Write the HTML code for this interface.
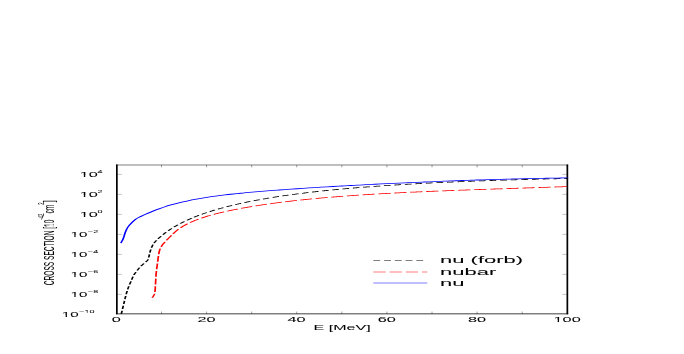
<!DOCTYPE html>
<html><head><meta charset="utf-8"><title>Cross section</title>
<style>
html,body{margin:0;padding:0;background:#fff;}
body{width:684px;height:354px;overflow:hidden;}
svg{display:block;opacity:0.999;will-change:transform;}
text{font-family:"Liberation Sans",sans-serif;fill:#000;font-kerning:none;stroke:#000;stroke-width:0.5px;}
</style></head><body>
<svg width="684" height="354" viewBox="0 0 684 354">
<rect width="684" height="354" fill="#fff"/>
<g transform="scale(1.7,0.794)" opacity="0.999" text-rendering="geometricPrecision">
<path d="M68.74 219.65h3.00M333.74 219.65h-3.00M68.74 244.84h3.00M333.74 244.84h-3.00M68.74 270.03h3.00M333.74 270.03h-3.00M68.74 295.21h3.00M333.74 295.21h-3.00M68.74 320.40h3.00M333.74 320.40h-3.00M68.74 345.59h3.00M333.74 345.59h-3.00M68.74 370.78h3.00M333.74 370.78h-3.00" stroke="#000" stroke-width="0.18" fill="none"/>
<path d="M68.48 395.38v-3.00M68.48 207.77v3.00M95.00 395.38v-3.00M95.00 207.77v3.00M121.52 395.38v-3.00M121.52 207.77v3.00M148.04 395.38v-3.00M148.04 207.77v3.00M174.56 395.38v-3.00M174.56 207.77v3.00M201.09 395.38v-3.00M201.09 207.77v3.00M227.61 395.38v-3.00M227.61 207.77v3.00M254.13 395.38v-3.00M254.13 207.77v3.00M280.65 395.38v-3.00M280.65 207.77v3.00M307.17 395.38v-3.00M307.17 207.77v3.00M333.69 395.38v-3.00M333.69 207.77v3.00" stroke="#000" stroke-width="0.3" fill="none"/>
<path d="M68.24 207.77H334.24M68.24 395.38H334.24" fill="none" stroke="#000" stroke-width="0.82"/>
<path d="M68.74 207.27V395.88M333.74 207.27V395.88" fill="none" stroke="#000" stroke-width="1"/>
<path d="M71.35 395.28L71.38 395.07L71.47 394.31L71.58 393.35L71.71 392.23L71.82 391.30M72.08 389.09L72.11 388.81L72.26 387.49L72.41 386.21L72.54 385.12M72.79 382.90L72.82 382.64L72.98 381.22L73.14 379.80L73.24 378.92M73.49 376.71L73.50 376.62L73.65 375.38L73.79 374.21L73.92 373.11L73.96 372.74M74.23 370.53L74.26 370.36L74.39 369.37L74.52 368.39L74.66 367.40L74.78 366.58M75.12 364.40L75.12 364.40L75.28 363.41L75.45 362.44L75.62 361.48L75.78 360.56L75.79 360.49M76.21 358.34L76.22 358.28L76.38 357.51L76.54 356.77L76.70 356.04L76.86 355.32L77.02 354.59L77.05 354.50M77.49 352.35L77.50 352.28L77.65 351.47L77.80 350.66L77.95 349.84L78.11 349.02L78.22 348.47M78.74 346.35L78.80 346.16L79.02 345.42L79.25 344.69L79.50 343.97L79.75 343.26L79.95 342.69M80.69 340.69L80.71 340.64L80.98 339.91L81.27 339.18L81.56 338.44L81.85 337.72L82.09 337.14M82.94 335.20L83.02 335.04L83.31 334.44L83.61 333.85L83.91 333.29L84.20 332.75L84.49 332.22L84.68 331.86M85.67 330.02L85.69 329.99L85.92 329.58L86.14 329.18L86.35 328.78L86.54 328.37L86.72 327.94L86.87 327.49L87.00 327.05L87.10 326.60L87.12 326.51M87.45 324.32L87.48 324.13L87.56 323.54L87.64 322.88L87.72 322.19L87.79 321.45L87.87 320.70L87.90 320.35M88.15 318.13L88.18 317.95L88.27 317.23L88.37 316.52L88.47 315.81L88.57 315.11L88.68 314.40L88.71 314.19M89.11 312.02L89.16 311.80L89.31 311.08L89.47 310.36L89.63 309.63L89.81 308.91L89.99 308.20M90.63 306.15L90.70 305.96L90.95 305.32L91.22 304.68L91.49 304.06L91.76 303.47L92.03 302.89L92.14 302.66M93.03 300.74L93.07 300.64L93.23 300.31L93.40 299.97L93.60 299.60L93.83 299.16L94.12 298.64L94.47 298.01L94.79 297.43M95.83 295.61L95.92 295.45L96.40 294.63L96.88 293.82L97.35 293.05L97.75 292.41M98.89 290.67L98.97 290.56L99.41 289.92L99.85 289.29L100.29 288.67L100.74 288.07L101.04 287.65M102.29 286.00L102.35 285.93L102.79 285.37L103.24 284.82L103.68 284.29L104.12 283.76L104.56 283.23L104.64 283.14M105.99 281.59L106.03 281.55L106.47 281.06L106.91 280.58L107.35 280.11L107.79 279.64L108.24 279.18L108.51 278.90M109.96 277.44L110.00 277.41L110.44 276.98L110.88 276.56L111.32 276.14L111.76 275.72L112.21 275.32L112.65 274.92L112.65 274.91M114.20 273.55L114.26 273.49L114.71 273.11L115.15 272.74L115.59 272.37L116.03 272.00L116.47 271.64L116.91 271.28L117.04 271.18M118.66 269.91L118.68 269.90L119.12 269.56L119.56 269.23L120.00 268.90L120.44 268.58L120.88 268.26L121.32 267.94L121.65 267.71M123.34 266.52L123.38 266.49L123.82 266.20L124.26 265.90L124.71 265.61L125.15 265.31L125.59 265.03L126.03 264.74L126.45 264.47M128.21 263.37L128.24 263.36L128.68 263.09L129.12 262.82L129.56 262.56L130.00 262.30L130.44 262.04L130.88 261.78L131.32 261.53L131.43 261.46M133.25 260.44L133.38 260.37L133.82 260.13L134.26 259.89L134.71 259.65L135.15 259.42L135.59 259.19L136.03 258.96L136.47 258.73L136.57 258.67M138.45 257.72L138.53 257.68L138.97 257.46L139.41 257.25L139.85 257.03L140.29 256.82L140.74 256.61L141.18 256.40L141.62 256.19L141.85 256.08M143.77 255.20L143.82 255.18L144.26 254.98L144.71 254.78L145.15 254.59L145.59 254.39L146.03 254.20L146.47 254.01L146.91 253.82L147.25 253.68M149.21 252.86L149.26 252.84L149.71 252.66L150.15 252.48L150.59 252.30L151.03 252.13L151.47 251.95L151.91 251.78L152.35 251.61L152.75 251.45M154.75 250.69L154.85 250.65L155.29 250.49L155.74 250.32L156.18 250.16L156.62 250.00L157.06 249.84L157.50 249.68L157.94 249.53L158.35 249.38M160.37 248.68L160.44 248.65L160.88 248.50L161.32 248.35L161.76 248.21L162.21 248.06L162.65 247.91L163.09 247.77L163.53 247.62L163.97 247.48L164.03 247.46M166.08 246.81L166.18 246.78L166.62 246.64L167.06 246.50L167.50 246.36L167.94 246.23L168.38 246.09L168.82 245.96L169.26 245.83L169.71 245.70L169.78 245.67M171.86 245.07L171.91 245.05L172.35 244.92L172.79 244.80L173.24 244.67L173.68 244.55L174.12 244.42L174.56 244.30L175.00 244.18L175.44 244.06L175.60 244.01M177.69 243.45L177.79 243.42L178.24 243.31L178.68 243.19L179.12 243.07L179.56 242.96L180.00 242.85L180.44 242.73L180.88 242.62L181.32 242.51L181.47 242.47M183.58 241.94L183.68 241.92L184.12 241.81L184.56 241.71L185.00 241.60L185.44 241.49L185.88 241.39L186.32 241.28L186.76 241.18L187.21 241.08L187.39 241.03M189.52 240.54L189.56 240.53L190.00 240.43L190.44 240.34L190.88 240.24L191.32 240.14L191.76 240.04L192.21 239.94L192.65 239.85L193.09 239.75L193.35 239.70M195.49 239.24L195.59 239.22L196.03 239.13L196.47 239.03L196.91 238.94L197.35 238.85L197.79 238.76L198.24 238.67L198.68 238.58L199.12 238.49L199.35 238.45M201.51 238.02L201.62 238.00L202.06 237.92L202.50 237.83L202.94 237.75L203.38 237.66L203.82 237.58L204.26 237.49L204.71 237.41L205.15 237.33L205.39 237.28M207.55 236.89L207.65 236.87L208.09 236.79L208.53 236.71L208.97 236.63L209.41 236.56L209.85 236.48L210.29 236.40L210.74 236.32L211.18 236.25L211.45 236.20M213.62 235.83L213.68 235.82L214.12 235.75L214.56 235.67L215.00 235.60L215.44 235.53L215.88 235.46L216.32 235.38L216.76 235.31L217.21 235.24L217.54 235.19M219.72 234.84L219.85 234.82L220.29 234.75L220.74 234.68L221.18 234.62L221.62 234.55L222.06 234.48L222.50 234.41L222.94 234.35L223.38 234.28L223.65 234.24M225.84 233.92L225.88 233.91L226.32 233.85L226.76 233.78L227.21 233.72L227.65 233.66L228.09 233.60L228.53 233.53L228.97 233.47L229.41 233.41L229.79 233.36M231.99 233.05L232.06 233.05L232.50 232.99L232.94 232.93L233.38 232.87L233.82 232.81L234.26 232.75L234.71 232.69L235.15 232.63L235.59 232.58L235.94 232.53M238.15 232.25L238.24 232.24L238.68 232.18L239.12 232.13L239.56 232.07L240.00 232.02L240.44 231.96L240.88 231.91L241.32 231.85L241.76 231.80L242.11 231.76M244.32 231.49L244.41 231.48L244.85 231.43L245.29 231.38L245.74 231.33L246.18 231.28L246.62 231.23L247.06 231.18L247.50 231.13L247.94 231.08L248.30 231.04M250.51 230.79L250.59 230.78L251.03 230.73L251.47 230.68L251.91 230.64L252.35 230.59L252.79 230.54L253.24 230.49L253.68 230.45L254.12 230.40L254.50 230.36M256.72 230.13L256.76 230.13L257.21 230.08L257.65 230.04L258.09 229.99L258.53 229.95L258.97 229.90L259.41 229.86L259.85 229.81L260.29 229.77L260.71 229.73M262.93 229.51L262.94 229.51L263.38 229.47L263.82 229.43L264.26 229.39L264.71 229.35L265.15 229.30L265.59 229.26L266.03 229.22L266.47 229.18L266.91 229.14L266.93 229.14M269.16 228.94L269.26 228.93L269.71 228.89L270.15 228.85L270.59 228.81L271.03 228.77L271.47 228.73L271.91 228.69L272.35 228.66L272.79 228.62L273.16 228.59M275.39 228.40L275.44 228.39L275.88 228.36L276.32 228.32L276.76 228.28L277.21 228.25L277.65 228.21L278.09 228.18L278.53 228.14L278.97 228.10L279.40 228.07M281.64 227.89L281.76 227.88L282.21 227.85L282.65 227.81L283.09 227.78L283.53 227.75L283.97 227.71L284.41 227.68L284.85 227.65L285.29 227.61L285.65 227.59M287.89 227.42L287.94 227.42L288.38 227.39L288.82 227.35L289.26 227.32L289.71 227.29L290.15 227.26L290.59 227.23L291.03 227.20L291.47 227.17L291.91 227.14M294.15 226.98L294.26 226.97L294.71 226.94L295.15 226.91L295.59 226.88L296.03 226.85L296.47 226.83L296.91 226.80L297.35 226.77L297.79 226.74L298.17 226.71M300.41 226.57L300.44 226.57L300.88 226.54L301.32 226.51L301.76 226.49L302.21 226.46L302.65 226.43L303.09 226.40L303.53 226.38L303.97 226.35L304.41 226.32L304.44 226.32M306.68 226.19L306.76 226.18L307.21 226.16L307.65 226.13L308.09 226.10L308.53 226.08L308.97 226.05L309.41 226.03L309.85 226.00L310.29 225.98L310.71 225.95M312.96 225.83L313.09 225.82L313.53 225.80L313.97 225.77L314.41 225.75L314.85 225.73L315.29 225.70L315.74 225.68L316.18 225.65L316.62 225.63L316.99 225.61M319.24 225.50L319.26 225.49L319.71 225.47L320.15 225.45L320.59 225.43L321.03 225.40L321.47 225.38L321.91 225.36L322.35 225.34L322.79 225.32L323.24 225.29L323.27 225.29M325.52 225.18L325.59 225.18L326.03 225.16L326.47 225.14L326.91 225.12L327.35 225.10L327.80 225.08L328.25 225.06L328.70 225.04L329.14 225.02L329.56 225.00M331.81 224.90L331.94 224.89L332.40 224.87L332.82 224.85L333.20 224.83L333.52 224.82L333.76 224.81" fill="none" stroke="#000" stroke-width="1"/>
<path d="M89.59 375.00L89.60 374.95L89.66 374.77L89.73 374.55L89.81 374.29L89.90 374.00L90.00 373.69L90.09 373.37L90.18 373.06L90.26 372.76L90.34 372.47L90.42 372.18L90.51 371.88L90.59 371.57L90.67 371.24L90.74 370.89L90.81 370.50L90.87 370.07L90.89 369.91M91.12 367.71L91.12 367.68L91.16 367.09L91.20 366.47L91.24 365.81L91.27 365.10L91.29 364.33L91.32 363.52L91.34 362.68L91.35 361.83L91.37 360.99L91.38 360.44M91.45 358.20L91.45 357.99L91.47 357.36L91.49 356.72L91.51 356.06L91.53 355.33L91.56 354.52L91.59 353.59L91.62 352.54L91.65 351.42L91.66 350.92M91.72 348.69L91.72 348.51L91.76 347.17L91.81 345.78L91.87 344.35L91.94 342.89L92.01 341.42M92.14 339.19L92.15 339.12L92.25 337.39L92.36 335.66L92.47 333.96L92.58 332.32L92.60 331.95M92.74 329.73L92.76 329.35L92.85 327.97L92.93 326.64L93.01 325.37L93.09 324.14L93.16 322.97L93.20 322.49M93.37 320.28L93.38 320.14L93.46 319.20L93.54 318.34L93.61 317.54L93.69 316.79L93.77 316.06L93.87 315.35L93.98 314.65L94.10 313.93L94.24 313.23L94.25 313.16M94.75 311.05L94.80 310.86L94.99 310.21L95.19 309.56L95.41 308.88L95.66 308.17L95.93 307.44L96.23 306.70L96.53 305.95L96.85 305.21L97.12 304.58M97.95 302.66L98.04 302.46L98.30 301.87L98.55 301.32L98.81 300.78L99.07 300.22L99.35 299.64L99.66 299.00L100.00 298.30L100.38 297.51L100.79 296.64L100.86 296.50M101.76 294.62L101.84 294.45L102.31 293.51L102.77 292.58L103.23 291.71L103.68 290.92L104.12 290.16L104.56 289.44L105.00 288.75L105.02 288.72M106.18 287.02L106.32 286.82L106.76 286.20L107.21 285.61L107.65 285.03L108.09 284.47L108.53 283.93L108.97 283.41L109.41 282.90L109.85 282.40L110.29 281.92L110.36 281.85M111.77 280.38L111.91 280.24L112.35 279.81L112.79 279.39L113.24 278.98L113.68 278.57L114.12 278.18L114.56 277.79L115.00 277.41L115.44 277.04L115.88 276.68L116.32 276.33L116.75 275.99M118.38 274.75L118.53 274.64L118.97 274.33L119.41 274.01L119.85 273.71L120.29 273.41L120.74 273.11L121.18 272.81L121.62 272.53L122.06 272.24L122.50 271.96L122.94 271.69L123.38 271.42L123.82 271.15L123.97 271.06M125.75 270.02L125.88 269.94L126.32 269.69L126.76 269.45L127.21 269.21L127.65 268.97L128.09 268.73L128.53 268.50L128.97 268.27L129.41 268.04L129.85 267.81L130.29 267.59L130.74 267.37L131.18 267.15L131.62 266.93L131.74 266.87M133.63 265.97L133.68 265.95L134.12 265.75L134.56 265.54L135.00 265.34L135.44 265.15L135.88 264.95L136.32 264.75L136.76 264.56L137.21 264.37L137.65 264.18L138.09 263.99L138.53 263.81L138.97 263.62L139.41 263.44L139.85 263.26L139.89 263.24M141.84 262.46L141.91 262.43L142.35 262.26L142.79 262.08L143.24 261.91L143.68 261.75L144.12 261.58L144.56 261.41L145.00 261.25L145.44 261.08L145.88 260.92L146.32 260.76L146.76 260.60L147.21 260.44L147.65 260.28L148.09 260.13L148.30 260.05M150.31 259.36L150.44 259.31L150.88 259.16L151.32 259.01L151.76 258.86L152.21 258.72L152.65 258.57L153.09 258.43L153.53 258.29L153.97 258.14L154.41 258.00L154.85 257.86L155.29 257.72L155.74 257.58L156.18 257.45L156.62 257.31L156.91 257.22M158.96 256.60L158.97 256.60L159.41 256.47L159.85 256.34L160.29 256.21L160.74 256.08L161.18 255.96L161.62 255.83L162.06 255.70L162.50 255.58L162.94 255.46L163.38 255.33L163.82 255.21L164.26 255.09L164.71 254.97L165.15 254.85L165.59 254.73L165.68 254.70M167.76 254.15L167.79 254.15L168.24 254.03L168.68 253.92L169.12 253.81L169.56 253.69L170.00 253.58L170.44 253.47L170.88 253.36L171.32 253.25L171.76 253.14L172.21 253.04L172.65 252.93L173.09 252.82L173.53 252.72L173.97 252.61L174.41 252.51L174.59 252.46M176.69 251.98L176.76 251.96L177.21 251.86L177.65 251.76L178.09 251.66L178.53 251.56L178.97 251.46L179.41 251.37L179.85 251.27L180.29 251.17L180.74 251.08L181.18 250.98L181.62 250.89L182.06 250.80L182.50 250.70L182.94 250.61L183.38 250.52L183.60 250.47M185.73 250.04L185.74 250.04L186.18 249.95L186.62 249.86L187.06 249.77L187.50 249.69L187.94 249.60L188.38 249.52L188.82 249.43L189.26 249.35L189.71 249.26L190.15 249.18L190.59 249.10L191.03 249.01L191.47 248.93L191.91 248.85L192.35 248.77L192.70 248.70M194.85 248.32L194.85 248.32L195.29 248.24L195.74 248.16L196.18 248.09L196.62 248.01L197.06 247.93L197.50 247.86L197.94 247.78L198.38 247.71L198.82 247.63L199.26 247.56L199.71 247.49L200.15 247.41L200.59 247.34L201.03 247.27L201.47 247.20L201.88 247.13M204.04 246.79L204.12 246.78L204.56 246.71L205.00 246.64L205.44 246.57L205.88 246.51L206.32 246.44L206.76 246.37L207.21 246.31L207.65 246.24L208.09 246.17L208.53 246.11L208.97 246.05L209.41 245.98L209.85 245.92L210.29 245.85L210.74 245.79L211.12 245.73M213.30 245.43L213.38 245.42L213.82 245.36L214.26 245.30L214.71 245.24L215.15 245.18L215.59 245.12L216.03 245.06L216.47 245.00L216.91 244.94L217.35 244.88L217.79 244.82L218.24 244.77L218.68 244.71L219.12 244.65L219.56 244.60L220.00 244.54L220.41 244.49M222.60 244.22L222.65 244.21L223.09 244.15L223.53 244.10L223.97 244.05L224.41 243.99L224.85 243.94L225.29 243.89L225.74 243.84L226.18 243.78L226.62 243.73L227.06 243.68L227.50 243.63L227.94 243.58L228.38 243.53L228.82 243.48L229.26 243.43L229.71 243.38L229.74 243.37M231.93 243.13L232.06 243.11L232.50 243.06L232.94 243.02L233.38 242.97L233.82 242.92L234.26 242.87L234.71 242.82L235.15 242.78L235.59 242.73L236.03 242.68L236.47 242.64L236.91 242.59L237.35 242.55L237.79 242.50L238.24 242.45L238.68 242.41L239.10 242.37M241.30 242.14L241.32 242.14L241.76 242.10L242.21 242.05L242.65 242.01L243.09 241.97L243.53 241.92L243.97 241.88L244.41 241.84L244.85 241.79L245.29 241.75L245.74 241.71L246.18 241.67L246.62 241.63L247.06 241.58L247.50 241.54L247.94 241.50L248.38 241.46L248.48 241.45M250.69 241.25L250.74 241.24L251.18 241.20L251.62 241.16L252.06 241.12L252.50 241.08L252.94 241.04L253.38 241.00L253.82 240.97L254.26 240.93L254.71 240.89L255.15 240.85L255.59 240.81L256.03 240.77L256.47 240.73L256.91 240.69L257.35 240.66L257.79 240.62L257.89 240.61M260.10 240.42L260.15 240.42L260.59 240.38L261.03 240.34L261.47 240.31L261.91 240.27L262.35 240.23L262.79 240.20L263.24 240.16L263.68 240.12L264.12 240.09L264.56 240.05L265.00 240.02L265.44 239.98L265.88 239.94L266.32 239.91L266.76 239.87L267.21 239.84L267.31 239.83M269.52 239.65L269.56 239.65L270.00 239.62L270.44 239.58L270.88 239.55L271.32 239.51L271.76 239.48L272.21 239.44L272.65 239.41L273.09 239.37L273.53 239.34L273.97 239.31L274.41 239.27L274.85 239.24L275.29 239.20L275.74 239.17L276.18 239.14L276.62 239.10L276.74 239.09M278.96 238.93L278.97 238.93L279.41 238.89L279.85 238.86L280.29 238.83L280.74 238.79L281.18 238.76L281.62 238.73L282.06 238.69L282.50 238.66L282.94 238.63L283.38 238.60L283.82 238.56L284.26 238.53L284.71 238.50L285.15 238.47L285.59 238.43L286.03 238.40L286.18 238.39M288.40 238.23L288.53 238.22L288.97 238.19L289.41 238.16L289.85 238.12L290.29 238.09L290.74 238.06L291.18 238.03L291.62 238.00L292.06 237.96L292.50 237.93L292.94 237.90L293.38 237.87L293.82 237.84L294.26 237.81L294.71 237.77L295.15 237.74L295.59 237.71L295.62 237.71M297.84 237.55L297.94 237.54L298.38 237.51L298.82 237.48L299.26 237.45L299.71 237.42L300.15 237.39L300.59 237.35L301.03 237.32L301.47 237.29L301.91 237.26L302.35 237.23L302.79 237.20L303.24 237.17L303.68 237.13L304.12 237.10L304.56 237.07L305.00 237.04L305.07 237.04M307.29 236.88L307.35 236.87L307.79 236.84L308.24 236.81L308.68 236.78L309.12 236.75L309.56 236.72L310.00 236.69L310.44 236.66L310.88 236.62L311.32 236.59L311.76 236.56L312.21 236.53L312.65 236.50L313.09 236.47L313.53 236.44L313.97 236.40L314.41 236.37L314.51 236.37M316.73 236.21L316.76 236.21L317.21 236.17L317.65 236.14L318.09 236.11L318.53 236.08L318.97 236.05L319.41 236.02L319.85 235.98L320.29 235.95L320.74 235.92L321.18 235.89L321.62 235.86L322.06 235.83L322.50 235.79L322.94 235.76L323.38 235.73L323.82 235.70L323.96 235.69M326.18 235.53L326.18 235.53L326.62 235.50L327.06 235.46L327.50 235.43L327.94 235.40L328.38 235.37L328.82 235.34L329.26 235.30L329.71 235.27L330.19 235.23L330.69 235.20L331.18 235.16L331.66 235.13L332.11 235.09L332.51 235.06L332.85 235.04L333.11 235.02L333.30 235.01L333.40 235.00" fill="none" stroke="#f00" stroke-width="1"/>
<path d="M71.12 306.11C71.19 305.84 71.34 305.21 71.53 304.47C71.72 303.74 72.00 302.81 72.24 301.70C72.47 300.59 72.72 299.20 72.94 297.80C73.17 296.39 73.32 294.79 73.59 293.26C73.85 291.73 74.15 290.13 74.53 288.60C74.91 287.07 75.07 286.05 75.88 284.07C76.70 282.08 78.24 278.61 79.41 276.68C80.59 274.76 81.76 273.79 82.94 272.53C84.12 271.26 85.29 270.18 86.47 269.08C87.65 267.98 88.82 266.92 90.00 265.91C91.18 264.90 92.35 263.94 93.53 263.03C94.71 262.12 95.88 261.25 97.06 260.43C98.24 259.62 99.41 258.85 100.59 258.12C101.76 257.39 102.94 256.70 104.12 256.05C105.29 255.40 106.47 254.79 107.65 254.21C108.82 253.63 110.00 253.09 111.18 252.57C112.35 252.05 113.53 251.56 114.71 251.09C115.88 250.62 117.06 250.18 118.24 249.76C119.41 249.34 120.59 248.94 121.76 248.55C122.94 248.17 124.12 247.81 125.29 247.46C126.47 247.10 127.65 246.77 128.82 246.45C130.00 246.13 131.18 245.82 132.35 245.52C133.53 245.22 134.71 244.93 135.88 244.66C137.06 244.38 138.24 244.11 139.41 243.85C140.59 243.59 141.76 243.34 142.94 243.10C144.12 242.85 145.29 242.62 146.47 242.39C147.65 242.16 148.82 241.93 150.00 241.71C151.18 241.49 152.35 241.28 153.53 241.07C154.71 240.86 155.88 240.66 157.06 240.46C158.24 240.26 159.41 240.06 160.59 239.87C161.76 239.68 162.94 239.49 164.12 239.31C165.29 239.12 166.47 238.94 167.65 238.76C168.82 238.58 170.00 238.41 171.18 238.23C172.35 238.06 173.53 237.89 174.71 237.72C175.88 237.55 177.06 237.39 178.24 237.22C179.41 237.06 180.59 236.90 181.76 236.74C182.94 236.58 184.12 236.42 185.29 236.26C186.47 236.11 187.65 235.95 188.82 235.80C190.00 235.65 191.18 235.50 192.35 235.35C193.53 235.20 194.71 235.05 195.88 234.91C197.06 234.76 198.24 234.62 199.41 234.47C200.59 234.33 201.76 234.19 202.94 234.05C204.12 233.91 205.29 233.77 206.47 233.63C207.65 233.49 208.82 233.36 210.00 233.22C211.18 233.09 212.35 232.96 213.53 232.82C214.71 232.69 215.88 232.56 217.06 232.43C218.24 232.30 219.41 232.18 220.59 232.05C221.76 231.92 222.94 231.80 224.12 231.67C225.29 231.55 226.47 231.43 227.65 231.30C228.82 231.18 230.00 231.06 231.18 230.94C232.35 230.82 233.53 230.71 234.71 230.59C235.88 230.47 237.06 230.36 238.24 230.24C239.41 230.13 240.59 230.02 241.76 229.91C242.94 229.79 244.12 229.68 245.29 229.58C246.47 229.47 247.65 229.36 248.82 229.25C250.00 229.15 251.18 229.04 252.35 228.94C253.53 228.83 254.71 228.73 255.88 228.63C257.06 228.53 258.24 228.43 259.41 228.33C260.59 228.24 261.76 228.14 262.94 228.04C264.12 227.95 265.29 227.85 266.47 227.76C267.65 227.67 268.82 227.58 270.00 227.49C271.18 227.40 272.35 227.31 273.53 227.22C274.71 227.13 275.88 227.05 277.06 226.96C278.24 226.88 279.41 226.80 280.59 226.72C281.76 226.64 282.94 226.56 284.12 226.48C285.29 226.40 286.47 226.32 287.65 226.25C288.82 226.17 290.00 226.10 291.18 226.02C292.35 225.95 293.53 225.88 294.71 225.81C295.88 225.74 297.06 225.67 298.24 225.61C299.41 225.54 300.59 225.48 301.76 225.41C302.94 225.35 304.12 225.29 305.29 225.23C306.47 225.17 307.65 225.11 308.82 225.05C310.00 224.99 311.18 224.94 312.35 224.88C313.53 224.83 314.71 224.78 315.88 224.73C317.06 224.68 318.24 224.63 319.41 224.58C320.59 224.53 321.76 224.49 322.94 224.44C324.12 224.40 325.29 224.35 326.47 224.31C327.65 224.27 328.82 224.23 330.00 224.19C331.18 224.16 332.90 224.10 333.53 224.08C334.16 224.07 333.73 224.08 333.76 224.08" fill="none" stroke="#00f" stroke-width="1"/>
<path d="M219.59 328.09H249.59" stroke="#000" stroke-width="0.75" stroke-dasharray="4.06 2.26"/>
<path d="M219.59 342.51H251.35" stroke="#f00" stroke-width="0.75" stroke-dasharray="7.3 2.24"/>
<path d="M219.59 356.42H251.35" stroke="#00f" stroke-width="0.75"/>
</g>
<g transform="translate(440.00,263.30) scale(0.22000,0.09800)"><text font-size="100" text-anchor="start">nu (forb)</text></g>
<g transform="translate(440.00,274.60) scale(0.22000,0.09800)"><text font-size="100" text-anchor="start">nubar</text></g>
<g transform="translate(440.00,285.60) scale(0.22000,0.09800)"><text font-size="100" text-anchor="start">nu</text></g>
<g transform="translate(116.27,321.80) scale(0.16300,0.06900)"><text font-size="100" text-anchor="middle">0</text></g>
<g transform="translate(206.44,321.80) scale(0.16300,0.06900)"><text font-size="100" text-anchor="middle">20</text></g>
<g transform="translate(296.61,321.80) scale(0.16300,0.06900)"><text font-size="100" text-anchor="middle">40</text></g>
<g transform="translate(386.78,321.80) scale(0.16300,0.06900)"><text font-size="100" text-anchor="middle">60</text></g>
<g transform="translate(476.95,321.80) scale(0.16300,0.06900)"><text font-size="100" text-anchor="middle">80</text></g>
<g transform="translate(567.12,321.80) scale(0.16300,0.06900)"><text font-size="100" text-anchor="middle">100</text><rect x="-80.42" y="-30" width="21.30" height="55" fill="#fff"/><rect x="-49.19" y="-30" width="22.00" height="55" fill="#fff"/></g>
<g transform="translate(97.90,177.40) scale(0.16300,0.06900)"><text font-size="100" text-anchor="end">10</text><rect x="-108.23" y="-30" width="21.30" height="55" fill="#fff"/><rect x="-77.00" y="-30" width="22.00" height="55" fill="#fff"/></g>
<g transform="translate(97.40,172.90) scale(0.08965,0.04278)"><text font-size="100" text-anchor="start">4</text></g>
<g transform="translate(97.90,197.40) scale(0.16300,0.06900)"><text font-size="100" text-anchor="end">10</text><rect x="-108.23" y="-30" width="21.30" height="55" fill="#fff"/><rect x="-77.00" y="-30" width="22.00" height="55" fill="#fff"/></g>
<g transform="translate(97.40,192.90) scale(0.08965,0.04278)"><text font-size="100" text-anchor="start">2</text></g>
<g transform="translate(97.90,217.40) scale(0.16300,0.06900)"><text font-size="100" text-anchor="end">10</text><rect x="-108.23" y="-30" width="21.30" height="55" fill="#fff"/><rect x="-77.00" y="-30" width="22.00" height="55" fill="#fff"/></g>
<g transform="translate(97.40,212.90) scale(0.08965,0.04278)"><text font-size="100" text-anchor="start">0</text></g>
<g transform="translate(87.40,237.40) scale(0.15159,0.06900)"><text font-size="100" text-anchor="end">10</text><rect x="-108.23" y="-30" width="21.30" height="55" fill="#fff"/><rect x="-77.00" y="-30" width="22.00" height="55" fill="#fff"/></g>
<g transform="translate(87.90,232.90) scale(0.09128,0.04278)"><text font-size="100" text-anchor="start">−2</text></g>
<g transform="translate(87.40,257.40) scale(0.15159,0.06900)"><text font-size="100" text-anchor="end">10</text><rect x="-108.23" y="-30" width="21.30" height="55" fill="#fff"/><rect x="-77.00" y="-30" width="22.00" height="55" fill="#fff"/></g>
<g transform="translate(87.90,252.90) scale(0.09128,0.04278)"><text font-size="100" text-anchor="start">−4</text></g>
<g transform="translate(87.40,277.40) scale(0.15159,0.06900)"><text font-size="100" text-anchor="end">10</text><rect x="-108.23" y="-30" width="21.30" height="55" fill="#fff"/><rect x="-77.00" y="-30" width="22.00" height="55" fill="#fff"/></g>
<g transform="translate(87.90,272.90) scale(0.09128,0.04278)"><text font-size="100" text-anchor="start">−6</text></g>
<g transform="translate(87.40,297.40) scale(0.15159,0.06900)"><text font-size="100" text-anchor="end">10</text><rect x="-108.23" y="-30" width="21.30" height="55" fill="#fff"/><rect x="-77.00" y="-30" width="22.00" height="55" fill="#fff"/></g>
<g transform="translate(87.90,292.90) scale(0.09128,0.04278)"><text font-size="100" text-anchor="start">−8</text></g>
<g transform="translate(78.70,317.40) scale(0.15159,0.06900)"><text font-size="100" text-anchor="end">10</text><rect x="-108.23" y="-30" width="21.30" height="55" fill="#fff"/><rect x="-77.00" y="-30" width="22.00" height="55" fill="#fff"/></g>
<g transform="translate(79.20,312.90) scale(0.09128,0.04278)"><text font-size="100" text-anchor="start">−10</text><rect x="61.40" y="-30" width="21.30" height="55" fill="#fff"/><rect x="92.63" y="-30" width="22.00" height="55" fill="#fff"/></g>
<g transform="translate(342.10,330.20) scale(0.16050,0.07400)"><text font-size="100" text-anchor="middle">E [MeV]</text></g>
<g transform="translate(53.90,285.30) scale(0.15000,0.06620) rotate(-90)"><text font-size="100" text-anchor="start">CROSS SECTION [10<tspan dy="-69" dx="-2" font-size="64">-42</tspan><tspan dy="69" dx="1">cm</tspan><tspan dy="-69" font-size="64">2</tspan><tspan dy="69">]</tspan></text><rect x="886.45" y="-30" width="21.30" height="55" fill="#fff"/><rect x="917.68" y="-30" width="22.00" height="55" fill="#fff"/></g>
</svg>
</body></html>
